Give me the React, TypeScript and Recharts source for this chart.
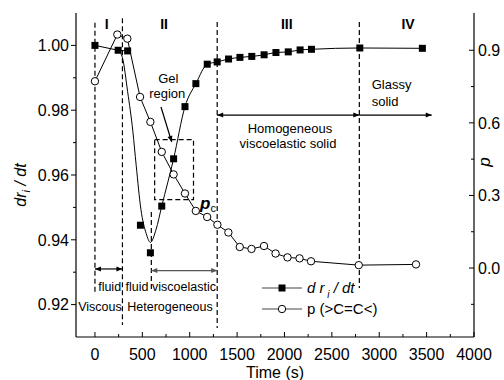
import React from 'react';
import {
  ComposedChart,
  Line,
  XAxis,
  YAxis,
  ReferenceLine,
  ReferenceArea,
  ReferenceDot,
  Legend,
} from 'recharts';

const FONT = '"Liberation Sans", Arial, sans-serif';

// reaction rate dr_i/dt (left axis), time in s
const drTime = [0, 245, 345, 480, 585, 705, 830, 950, 1065, 1185, 1290, 1410, 1530, 1655, 1785, 1910, 2040, 2165, 2285, 2795, 3455];
const drValue = [1.0, 0.9985, 0.9983, 0.9445, 0.936, 0.9504, 0.965, 0.9811, 0.9882, 0.9942, 0.9949, 0.9958, 0.9963, 0.9966, 0.9971, 0.9978, 0.998, 0.9986, 0.9988, 0.9992, 0.9991];

// conversion p of >C=C< (right axis)
const pTime = [0, 236, 342, 476, 585, 705, 830, 950, 1064, 1184, 1292, 1408, 1528, 1652, 1784, 1906, 2032, 2159, 2280, 2784, 3388];
const pValue = [0.772, 0.965, 0.948, 0.707, 0.604, 0.48, 0.387, 0.308, 0.236, 0.211, 0.179, 0.147, 0.087, 0.079, 0.091, 0.06, 0.044, 0.04, 0.028, 0.012, 0.015];

// smooth guide curve through the dip (joins the rate points after ~1200 s)
const fitTime = [245, 290, 345, 400, 435, 485, 540, 585, 645, 705, 830, 950, 1065, 1185];
const fitValue = [0.9985, 0.9962, 0.9857, 0.9735, 0.963, 0.9494, 0.942, 0.9392, 0.9432, 0.9504, 0.965, 0.9811, 0.9882, 0.9942];

const timeTicks = [0, 250, 500, 750, 1000, 1250, 1500, 1750, 2000, 2250, 2500, 2750, 3000, 3250, 3500, 3750, 4000];
const drTicks = [0.92, 0.93, 0.94, 0.95, 0.96, 0.97, 0.98, 0.99, 1.0];
const pTicks = [-0.15, 0, 0.15, 0.3, 0.45, 0.6, 0.75, 0.9];

const drData = drTime.map((t, i) => ({ t, v: drValue[i] }));
const pData = pTime.map((t, i) => ({ t, v: pValue[i] }));
const fitData = fitTime.map((t, i) => ({ t, v: fitValue[i] })).concat(drData.slice(10));

const BottomTick = (props: any) => {
  const { x, y, payload } = props;
  const major = payload.value % 500 === 0;
  return (
    <g>
      <line x1={x} y1={y} x2={x} y2={y - (major ? 5 : 3)} stroke="#000" />
      {major && (
        <text x={x} y={y + 23} textAnchor="middle" fontSize={16} fontFamily={FONT} fill="#000">
          {payload.value}
        </text>
      )}
    </g>
  );
};

const TopTick = (props: any) => {
  const { x, y, payload } = props;
  const major = payload.value % 500 === 0;
  return <line x1={x} y1={y} x2={x} y2={y + (major ? 5 : 3)} stroke="#000" />;
};

const LeftTick = (props: any) => {
  const { x, y, payload } = props;
  const major = Math.round(payload.value * 100) % 2 === 0;
  return (
    <g>
      <line x1={x - (major ? 5 : 3)} y1={y} x2={x} y2={y} stroke="#000" />
      {major && (
        <text x={x - 7} y={y + 5.7} textAnchor="end" fontSize={16} fontFamily={FONT} fill="#000">
          {payload.value.toFixed(2)}
        </text>
      )}
    </g>
  );
};

const RightTick = (props: any) => {
  const { x, y, payload } = props;
  const r = payload.value / 0.3;
  const major = Math.abs(r - Math.round(r)) < 1e-6;
  return (
    <g>
      <line x1={x - (major ? 5 : 3)} y1={y} x2={x} y2={y} stroke="#000" />
      {major && (
        <text x={x + 4} y={y + 5.7} textAnchor="start" fontSize={16} fontFamily={FONT} fill="#000">
          {payload.value.toFixed(1)}
        </text>
      )}
    </g>
  );
};

const squareDot = (props: any) => {
  const { cx, cy, index } = props;
  if (cx == null || cy == null) return <g key={index} />;
  return <rect key={index} x={cx - 3.5} y={cy - 3.5} width={7} height={7} fill="#000" />;
};

const arrowShape = (both: boolean, color = '#000') => (p: any) => {
  const { x1, y1, x2, y2 } = p;
  const a = Math.atan2(y2 - y1, x2 - x1);
  const head = (x: number, y: number, ang: number) => {
    const bx = x - 6 * Math.cos(ang);
    const by = y - 6 * Math.sin(ang);
    const px = -Math.sin(ang) * 2.5;
    const py = Math.cos(ang) * 2.5;
    return `${x},${y} ${bx + px},${by + py} ${bx - px},${by - py}`;
  };
  return (
    <g>
      <line x1={x1} y1={y1} x2={x2} y2={y2} stroke={color} strokeWidth={1.2} />
      <polygon points={head(x2, y2, a)} fill={color} />
      {both && <polygon points={head(x1, y1, a + Math.PI)} fill={color} />}
    </g>
  );
};

const LegendBox = () => (
  <div style={{ fontFamily: FONT, fontSize: 15, color: '#000' }}>
    <div style={{ display: 'flex', alignItems: 'center', height: 21 }}>
      <svg width={40} height={12}>
        <line x1={0} y1={6} x2={40} y2={6} stroke="#444" />
        <rect x={16.5} y={2.5} width={7} height={7} fill="#000" />
      </svg>
      <span style={{ marginLeft: 5, fontStyle: 'italic' }}>
        d r<span style={{ fontSize: 10, position: 'relative', top: 5 }}> i</span> / dt
      </span>
    </div>
    <div style={{ display: 'flex', alignItems: 'center', height: 21 }}>
      <svg width={40} height={12}>
        <line x1={0} y1={6} x2={40} y2={6} stroke="#444" />
        <circle cx={20} cy={6} r={3.7} fill="#fff" stroke="#000" />
      </svg>
      <span style={{ marginLeft: 5 }}>p (&gt;C=C&lt;)</span>
    </div>
  </div>
);

export default function App() {
  // dashed stage boundaries (time, top, bottom in rate units)
  const dividers = [
    { t: 0, top: 1.007, bottom: 0.9239 },
    { t: 290, top: 1.0084, bottom: 0.9137 },
    { t: 595, top: 0.9486, bottom: 0.9245 },
    { t: 1290, top: 1.0072, bottom: 0.9128 },
    { t: 2790, top: 1.0072, bottom: 0.9251 },
  ];
  const arrows = [
    { a: 0, b: 290, v: 0.931, both: true, color: '#000' },
    { a: 595, b: 1290, v: 0.9305, both: true, color: '#555' },
    { a: 1290, b: 2790, v: 0.9785, both: true, color: '#000' },
    { a: 2790, b: 3554, v: 0.9785, both: false, color: '#000' },
  ];
  const notes = [
    { t: 124, v: 1.0066, text: 'I', size: 14, bold: true },
    { t: 729, v: 1.0066, text: 'II', size: 14, bold: true },
    { t: 2024, v: 1.0066, text: 'III', size: 14, bold: true },
    { t: 3304, v: 1.0066, text: 'IV', size: 14, bold: true },
    { t: 774, v: 0.9898, text: 'Gel', size: 13 },
    { t: 763, v: 0.9852, text: 'region', size: 13 },
    { t: 2058, v: 0.9744, text: 'Homogeneous', size: 13 },
    { t: 2037, v: 0.9698, text: 'viscoelastic solid', size: 13 },
    { t: 2920, v: 0.9878, text: 'Glassy', size: 13, start: true },
    { t: 2920, v: 0.9828, text: 'solid', size: 13, start: true },
    { t: 155, v: 0.9254, text: 'fluid', size: 12.5 },
    { t: 444, v: 0.9254, text: 'fluid', size: 12.5 },
    { t: 940, v: 0.9254, text: 'viscoelastic', size: 12.5 },
    { t: 53, v: 0.9193, text: 'Viscous', size: 12.5 },
    { t: 792, v: 0.9193, text: 'Heterogeneous', size: 12.5 },
  ];

  return (
    <div style={{ position: 'absolute', left: 0, top: 0, width: 504, height: 380, background: '#fff' }}>
      <ComposedChart width={504} height={380} margin={{ top: 13, right: 0, bottom: 0, left: 0 }}>
        <XAxis
          dataKey="t"
          type="number"
          domain={[-200, 4000]}
          ticks={timeTicks}
          interval={0}
          allowDataOverflow
          height={43}
          tickSize={0}
          tickMargin={0}
          tickLine={false}
          tick={BottomTick}
          axisLine={{ stroke: '#000', strokeWidth: 1.2 }}
          label={(p: any) => {
            const vb = p.viewBox || { x: 76, y: 337, width: 398, height: 43 };
            return (
              <text x={vb.x + vb.width / 2} y={vb.y + vb.height - 2} textAnchor="middle" fontSize={16} fontFamily={FONT} fill="#000">
                Time (s)
              </text>
            );
          }}
        />
        <XAxis
          xAxisId="top"
          orientation="top"
          type="number"
          domain={[-200, 4000]}
          ticks={timeTicks}
          interval={0}
          allowDataOverflow
          height={0}
          tickSize={0}
          tickMargin={0}
          tickLine={false}
          tick={TopTick}
          axisLine={{ stroke: '#000', strokeWidth: 1.2 }}
        />
        <YAxis
          yAxisId="L"
          type="number"
          domain={[0.91, 1.01]}
          ticks={drTicks}
          interval={0}
          allowDataOverflow
          width={76}
          tickSize={0}
          tickMargin={0}
          tickLine={false}
          tick={LeftTick}
          axisLine={{ stroke: '#000', strokeWidth: 1.2 }}
          label={(p: any) => {
            const vb = p.viewBox || { x: 0, y: 13, width: 76, height: 324 };
            const cx = vb.x + 26;
            const cy = vb.y + vb.height / 2 + 10;
            return (
              <text x={cx} y={cy} transform={`rotate(-90 ${cx} ${cy})`} textAnchor="middle" fontSize={16} fontStyle="italic" fontFamily={FONT} fill="#000">
                dr<tspan fontSize={11} dy={4}>i</tspan>
                <tspan dy={-4}> / dt</tspan>
              </text>
            );
          }}
        />
        <YAxis
          yAxisId="R"
          orientation="right"
          type="number"
          domain={[-0.285, 1.054]}
          ticks={pTicks}
          interval={0}
          allowDataOverflow
          width={30}
          tickSize={0}
          tickMargin={0}
          tickLine={false}
          tick={RightTick}
          axisLine={{ stroke: '#000', strokeWidth: 1.2 }}
          label={(p: any) => {
            const vb = p.viewBox || { x: 474, y: 13, width: 30, height: 324 };
            const cx = vb.x + 16;
            const cy = vb.y + vb.height / 2 - 13;
            return (
              <text x={cx} y={cy} transform={`rotate(-90 ${cx} ${cy})`} textAnchor="middle" fontSize={17} fontStyle="italic" fontFamily={FONT} fill="#000">
                p
              </text>
            );
          }}
        />

        {dividers.map((d) => (
          <ReferenceLine
            key={`d${d.t}`}
            yAxisId="L"
            segment={[{ x: d.t, y: d.top }, { x: d.t, y: d.bottom }]}
            stroke="#000"
            strokeWidth={1.2}
            strokeDasharray="5 3"
          />
        ))}
        <ReferenceArea
          yAxisId="L"
          x1={630}
          x2={1040}
          y1={0.9524}
          y2={0.9709}
          fill="none"
          stroke="#000"
          strokeWidth={1.2}
          strokeDasharray="5 3"
        />
        {arrows.map((a) => (
          <ReferenceLine
            key={`a${a.a}`}
            yAxisId="L"
            segment={[{ x: a.a, y: a.v }, { x: a.b, y: a.v }]}
            shape={arrowShape(a.both, a.color)}
          />
        ))}
        <ReferenceLine
          yAxisId="L"
          segment={[{ x: 697, y: 0.981 }, { x: 810, y: 0.9702 }]}
          shape={arrowShape(false)}
        />
        {notes.map((n, i) => (
          <ReferenceDot
            key={`n${i}`}
            yAxisId="L"
            x={n.t}
            y={n.v}
            shape={(p: any) => (
              <text
                x={p.cx}
                y={p.cy}
                textAnchor={n.start ? 'start' : 'middle'}
                dominantBaseline="central"
                fontSize={n.size}
                fontWeight={n.bold ? 'bold' : 'normal'}
                fontFamily={FONT}
                fill="#000"
              >
                {n.text}
              </text>
            )}
          />
        ))}
        <ReferenceDot
          yAxisId="L"
          x={1109}
          y={0.9514}
          shape={(p: any) => (
            <text x={p.cx} y={p.cy} dominantBaseline="central" fontFamily={FONT} fill="#000">
              <tspan fontSize={17} fontWeight="bold" fontStyle="italic">p</tspan>
              <tspan fontSize={11} dy={5}>c</tspan>
            </text>
          )}
        />

        <Line yAxisId="L" data={fitData} dataKey="v" type="monotone" stroke="#000" strokeWidth={1} dot={false} activeDot={false} legendType="none" isAnimationActive={false} />
        <Line yAxisId="L" data={drData.slice(0, 3)} dataKey="v" type="linear" stroke="#000" strokeWidth={1} dot={false} activeDot={false} legendType="none" isAnimationActive={false} />
        <Line yAxisId="R" data={pData} dataKey="v" name="p (>C=C<)" type="linear" stroke="#000" strokeWidth={1} dot={{ r: 3.7, fill: '#fff', stroke: '#000', strokeWidth: 1 }} activeDot={false} isAnimationActive={false} />
        <Line yAxisId="L" data={drData} dataKey="v" name="d r_i / dt" type="linear" stroke="none" dot={squareDot} activeDot={false} isAnimationActive={false} />

        <Legend
          layout="vertical"
          align="center"
          verticalAlign="middle"
          wrapperStyle={{ left: 262, top: 277, width: 'auto' }}
          content={() => <LegendBox />}
        />
      </ComposedChart>
    </div>
  );
}
